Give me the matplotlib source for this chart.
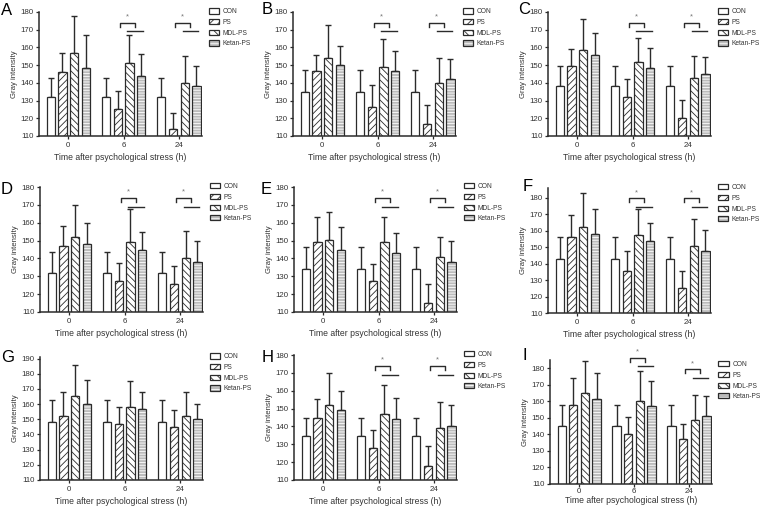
import numpy as np
import matplotlib
matplotlib.use("Agg")
import matplotlib.pyplot as plt
from matplotlib.patches import Patch

plt.rcParams['font.family'] = ['Liberation Sans', 'DejaVu Sans']
plt.rcParams['hatch.linewidth'] = 0.6

groups = ["CON", "PS", "MDL-PS", "Ketan-PS"]
times = ["0", "6", "24"]
letters = ["A", "B", "C", "D", "E", "F", "G", "H", "I"]

# mean values, one row per time point (0, 6, 24 h), columns follow groups
a_mean = [[132, 146, 157, 148.5], [132, 125.5, 151, 144], [132, 114, 140, 138.5]]
a_sd = [[11, 11, 21, 18.5], [11, 10, 16, 12.5], [11, 9, 15, 11]]
b_mean = [[135, 146.5, 154, 150], [135, 126.5, 149, 146.5], [135, 117, 140, 142]]
b_sd = [[12, 9.5, 18.5, 11], [12, 12.5, 16, 11.5], [12, 10.5, 14, 11.5]]
c_mean = [[138.5, 149.5, 158.5, 155.5], [138.5, 132, 152, 148.5], [138.5, 120, 142.5, 145]]
c_sd = [[11, 9.5, 17.5, 12.5], [11, 10, 13.5, 11], [11, 10.5, 12.5, 9.5]]
d_mean = [[132, 147, 152, 148], [132, 127.5, 149, 145], [132, 125.5, 140.5, 138]]
d_sd = [[11.5, 11, 18, 12], [11.5, 10, 18.5, 10], [11.5, 10.5, 15, 12]]
e_mean = [[134, 149, 150.5, 145], [134, 127.5, 149, 143], [134, 115, 141, 138]]
e_sd = [[12.5, 14, 15.5, 12.5], [12.5, 9.5, 14, 11], [12.5, 10.5, 11, 12]]
f_mean = [[143, 156, 162, 158], [143, 135.5, 157.5, 153.5], [143, 125.5, 150.5, 148]]
f_sd = [[13, 13.5, 21, 15.5], [13, 12.5, 16, 11.5], [13, 10, 16.5, 12.5]]
g_mean = [[148, 152, 165, 160], [148, 147, 158, 156.5], [148, 145, 152, 150]]
g_sd = [[15, 16, 21, 16], [15, 11, 17, 11.5], [15, 11, 16, 10]]
h_mean = [[134.5, 145, 152, 149], [134.5, 128, 147, 144], [134.5, 118, 139, 140]]
h_sd = [[10.5, 10.5, 18, 11], [10.5, 10, 16, 12], [10.5, 11, 14.5, 12]]
i_mean = [[145, 157.5, 165, 161.5], [145, 140.5, 160.5, 157], [145, 137.5, 149, 151]]
i_sd = [[12.5, 16.5, 19.5, 15.5], [12.5, 10, 18, 15.5], [12.5, 9, 15, 12]]

# significance marks: (time index, bracket height, line height)
a_sig = [(1, 174, 169), (2, 174, 169)]
b_sig = [(1, 174, 169), (2, 174, 169)]
c_sig = [(1, 174, 169), (2, 174, 169)]
d_sig = [(1, 174, 169), (2, 174, 169)]
e_sig = [(1, 174, 169), (2, 174, 169)]
f_sig = [(1, 180, 174.5), (2, 180, 174.5)]
g_sig = []
h_sig = [(1, 174, 169), (2, 174, 169)]
i_sig = [(1, 186.5, 181.5), (2, 179.5, 174)]

panel_means = [a_mean, b_mean, c_mean, d_mean, e_mean, f_mean, g_mean, h_mean, i_mean]
panel_sds = [a_sd, b_sd, c_sd, d_sd, e_sd, f_sd, g_sd, h_sd, i_sd]
panel_sigs = [a_sig, b_sig, c_sig, d_sig, e_sig, f_sig, g_sig, h_sig, i_sig]
panel_ytop = [180, 180, 180, 180, 180, 186, 191, 180, 185]
panel_tickmax = [180, 180, 180, 180, 180, 180, 190, 180, 180]

# axes boxes in pixels: x0, y0 (top), x1, y1 (bottom)
boxes = [(39, 12, 202, 136), (293, 12, 456, 136), (548, 12, 711, 136),
         (40, 187, 203, 312), (294, 187, 457, 312), (548, 188, 711, 313),
         (40, 357, 203, 480), (294, 355, 457, 480), (550, 360, 712, 484)]
letter_pos = [(1, 3), (262, 2), (518, 2), (1, 182), (261, 182), (523, 179),
              (1, 350), (262, 350), (522, 348)]
# tick pad, xlabel pad
pads = [(1.5, 3)] * 8 + [(0.6, 0.8)]
legend_top = [1.03] * 8 + [0.99]

W, H = 762, 508
dark = "#2b2b2b"
pitch = 0.212
width = 0.15
offsets = (np.arange(4) - 1.5) * pitch
hatches = [None, "/////", "\\\\\\\\\\", "------"]
ketan_face = "#bcbcbc"

fig = plt.figure(figsize=(W / 100, H / 100), dpi=100)


def draw_panel(ax, mean, sd, ytop, tickmax, sig, pad, ltop):
    mean = np.array(mean, dtype=float)
    sd = np.array(sd, dtype=float)
    x = np.arange(len(times))
    for i, g in enumerate(groups):
        xs = x + offsets[i]
        m = mean[:, i]
        ax.errorbar(xs, m, yerr=[np.zeros_like(m), sd[:, i]], fmt="none",
                    ecolor=dark, elinewidth=1.0, capsize=2.3, capthick=1.0, zorder=1)
        if g == "Ketan-PS":
            ax.bar(xs, m, width, color=ketan_face, edgecolor="white",
                   hatch=hatches[i], linewidth=0, zorder=2)
            ax.bar(xs, m, width, fill=False, edgecolor=dark, linewidth=0.9, zorder=3)
        else:
            ax.bar(xs, m, width, color="white", edgecolor=dark,
                   hatch=hatches[i], linewidth=0.9, zorder=2)
    for t, top, line in sig:
        bx0, bx1 = t - 0.073, t + 0.205
        ax.plot([bx0, bx0, bx1, bx1], [top - 2.6, top, top, top - 2.6],
                color=dark, lw=1.0, clip_on=False, zorder=4)
        ax.plot([t + 0.07, t + 0.345], [line, line], color=dark, lw=1.0,
                clip_on=False, zorder=4)
        ax.text((bx0 + bx1) / 2, top + 1.2, "*", color="#777777", fontsize=5.5,
                ha="center", va="bottom")
    ax.set_xlim(-0.53, 2.42)
    ax.set_ylim(110, ytop)
    ax.set_yticks(np.arange(110, tickmax + 1, 10))
    ax.set_xticks(x)
    ax.set_xticklabels(times)
    for s in ["top", "right"]:
        ax.spines[s].set_visible(False)
    for s in ["left", "bottom"]:
        ax.spines[s].set_linewidth(1.1)
        ax.spines[s].set_color(dark)
    ax.tick_params(length=2.5, width=0.9, color=dark, labelsize=5.7, pad=1.5,
                   labelcolor="#333333")
    ax.tick_params(axis="x", pad=pad[0])
    ax.set_xlabel("Time after psychological stress (h)", fontsize=6.2,
                  color="#333333", labelpad=pad[1])
    ax.set_ylabel("Gray intensity", fontsize=5.6, color="#333333", labelpad=2)

    handles = [Patch(facecolor="white", edgecolor=dark, linewidth=0.9),
               Patch(facecolor="white", edgecolor=dark, hatch="////", linewidth=0.9),
               Patch(facecolor="white", edgecolor=dark, hatch="\\\\\\\\", linewidth=0.9),
               (Patch(facecolor=ketan_face, edgecolor="white", hatch="----", linewidth=0),
                Patch(fill=False, edgecolor=dark, linewidth=0.9))]
    ax.legend(handles, groups, loc="upper left", bbox_to_anchor=(1.04, ltop),
              frameon=False, fontsize=4.8, handlelength=1.6, handleheight=0.8,
              labelspacing=0.55, handletextpad=0.5, borderaxespad=0, borderpad=0,
              labelcolor="#333333")


for k in range(9):
    x0, y0, x1, y1 = boxes[k]
    ax = fig.add_axes([x0 / W, 1 - y1 / H, (x1 - x0) / W, (y1 - y0) / H])
    draw_panel(ax, panel_means[k], panel_sds[k], panel_ytop[k], panel_tickmax[k],
               panel_sigs[k], pads[k], legend_top[k])
    lx, ly = letter_pos[k]
    fig.text(lx / W, 1 - ly / H, letters[k], fontsize=12, ha="left", va="top")

fig.savefig("out.png", dpi=100)
